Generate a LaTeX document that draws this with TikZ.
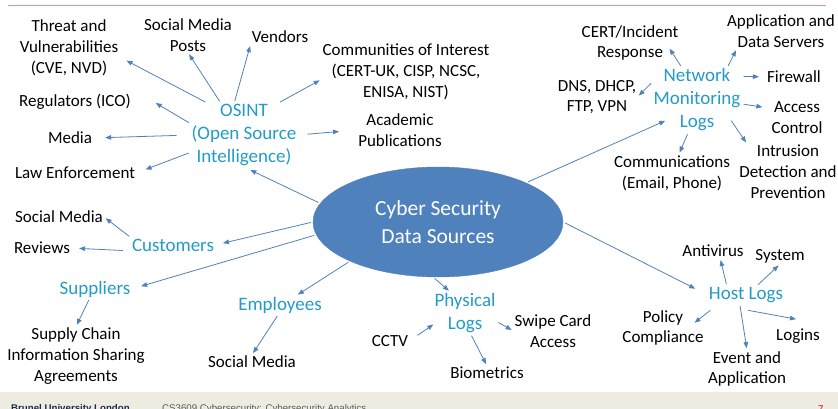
\documentclass[tikz,border=0pt]{standalone}
\usepackage{fontspec}
\setmainfont{Carlito}
\newfontfamily\footfont{Liberation Sans}
\usetikzlibrary{arrows.meta,shapes.geometric}
\definecolor{corefill}{RGB}{79,129,189}
\definecolor{hubcyan}{RGB}{35,155,200}
\definecolor{linkblue}{RGB}{79,129,189}
\definecolor{topred}{RGB}{217,150,148}
\definecolor{footbg}{RGB}{238,236,225}
\definecolor{footnavy}{RGB}{27,42,74}
\definecolor{footgrey}{RGB}{89,89,89}
\definecolor{pagered}{RGB}{192,0,0}

\begin{document}
\begin{tikzpicture}[
  x=1pt, y=-1pt,
  >={Triangle[length=6pt,width=4.6pt]},
  leaf/.style={
    align=center,
    inner sep=1pt,
    font=\fontsize{17}{20.8}\selectfont
  },
  hub/.style={
    align=center,
    inner sep=1pt,
    text=hubcyan,
    font=\fontsize{19}{23}\selectfont
  },
  coreshape/.style={
    ellipse,
    fill=corefill,
    draw=corefill,
    text=white,
    align=center,
    inner sep=0pt,
    minimum width=250pt,
    minimum height=110pt,
    font=\fontsize{21.5}{28}\selectfont
  },
  arrow/.style={->, draw=linkblue, line width=0.8pt, shorten <=2pt, shorten >=2pt},
  footnote/.style={anchor=base west, inner sep=0pt, font=\footfont\fontsize{9.7}{11}\selectfont}
]
  \useasboundingbox (0,0) rectangle (838,409);

  % slide frame
  \draw[topred, line width=1.2pt] (8,5.5) -- (826,5.5);
  \fill[footbg] (0,392) rectangle (838,409);
  \begin{scope}
    \clip (0,0) rectangle (838,409);
    \node[footnote, text=footnavy] (uni) at (11,411) {\bfseries Brunel University London};
    \node[footnote, text=footgrey] (course) at (162,411) {CS3609 Cybersecurity: Cybersecurity Analytics};
    \node[footnote, text=pagered] (page) at (818,412) {7};
  \end{scope}

  \node[coreshape] (core) at (438,222) {Cyber Security\\ Data Sources};

  % OSINT
  \node[hub] (osint) at (244,135) {OSINT\\ (Open Source\\ Intelligence)};
  \node[leaf] (threat) at (69,48) {Threat and\\ Vulnerabilities\\ (CVE, NVD)};
  \node[leaf] (smposts) at (188,35) {Social Media\\ Posts};
  \node[leaf] (vendors) at (280,37) {Vendors};
  \node[leaf] (communities) at (406,72) {Communities of Interest\\ (CERT-UK, CISP, NCSC,\\ ENISA, NIST)};
  \node[leaf] (regulators) at (75,102) {Regulators (ICO)};
  \node[leaf] (media) at (70,138) {Media};
  \node[leaf] (lawenf) at (75,173) {Law Enforcement};
  \node[leaf] (academic) at (400,130) {Academic\\ Publications};

  % network monitoring
  \node[hub] (netlogs) at (697,100) {Network\\ Monitoring\\ Logs};
  \node[leaf] (cert) at (630,43) {CERT/Incident\\ Response};
  \node[leaf] (appsrv) at (781,31) {Application and\\ Data Servers};
  \node[leaf] (firewall) at (794,77) {Firewall};
  \node[leaf] (dns) at (597,97) {DNS, DHCP,\\ FTP, VPN};
  \node[leaf] (access) at (797,118) {Access\\ Control};
  \node[leaf] (intrusion) at (788,172) {Intrusion\\ Detection and\\ Prevention};
  \node[leaf] (comms) at (672,173) {Communications\\ (Email, Phone)};

  % customers, suppliers, employees
  \node[hub] (customers) at (173,245) {Customers};
  \node[leaf] (csocial) at (59,217) {Social Media};
  \node[leaf] (reviews) at (42,248) {Reviews};
  \node[hub] (suppliers) at (95,289) {Suppliers};
  \node[leaf] (supply) at (76,356) {Supply Chain\\ Information Sharing\\ Agreements};
  \node[hub] (employees) at (280,305) {Employees};
  \node[leaf] (esocial) at (252,362) {Social Media};

  % physical
  \node[hub] (physical) at (465,313) {Physical\\ Logs};
  \node[leaf] (cctv) at (390,341) {CCTV};
  \node[leaf] (swipe) at (553,331) {Swipe Card\\ Access};
  \node[leaf] (biometrics) at (487,373) {Biometrics};

  % host
  \node[hub] (hostlogs) at (746,295) {Host Logs};
  \node[leaf] (antivirus) at (713,251) {Antivirus};
  \node[leaf] (system) at (780,256) {System};
  \node[leaf] (policy) at (663,328) {Policy\\ Compliance};
  \node[leaf] (event) at (747,369) {Event and\\ Application};
  \node[leaf] (logins) at (798,336) {Logins};

  \draw[arrow, shorten >=7pt] (core.171) -- (osint.south);
  \draw[arrow, shorten >=8pt] (osint.139) -- (threat.-10);
  \draw[arrow] (osint.126) -- (smposts.south);
  \draw[arrow] (osint.107) -- (vendors.south west);
  \draw[arrow] (osint.43) -- (communities.185);
  \draw[arrow] (osint.168) -- ([xshift=22pt]regulators.east);
  \draw[arrow, shorten <=14pt, shorten >=12pt] (osint.west) -- (media.east);
  \draw[arrow, shorten >=10pt] (osint.198) -- (lawenf.east);
  \draw[arrow, shorten <=10pt, shorten >=18pt] (osint.east) -- (academic.west);

  \draw[arrow] (core.24) -- ([xshift=-30pt,yshift=-20pt]netlogs.center);
  \draw[arrow] (netlogs.115) -- ([xshift=-11pt,yshift=-4pt]cert.east);
  \draw[arrow] (netlogs.47) -- ([xshift=11pt]appsrv.south west);
  \draw[arrow, shorten >=7pt] (netlogs.28) -- (firewall.west);
  \draw[arrow] (netlogs.158) -- (dns.east);
  \draw[arrow, shorten >=8pt] (netlogs.-5) -- (access.160);
  \draw[arrow] ([xshift=33pt,yshift=-19pt]netlogs.center) -- ([xshift=9pt]intrusion.north west);
  \draw[arrow] (netlogs.-105) -- (comms.70);

  \draw[arrow, shorten >=8pt] (core.west) -- (customers.east);
  \draw[arrow] (customers.north west) -- (csocial.east);
  \draw[arrow, shorten <=8pt, shorten >=8pt] (customers.188) -- (reviews.east);
  \draw[arrow, shorten >=10pt] (core.186) -- (suppliers.east);
  \draw[arrow] (suppliers.-120) -- (supply.north);
  \draw[arrow] (core.204) -- (employees.30);
  \draw[arrow] (employees.-100) -- (esocial.north);

  \draw[arrow] (core.265) -- (physical.125);
  \draw[arrow] (physical.-15) -- (swipe.west);
  \draw[arrow] (physical.-75) -- (biometrics.north);
  \draw[arrow, shorten <=10pt, shorten >=0pt] (cctv.east) -- (physical.200);

  \draw[arrow, shorten >=14pt] (core.east) -- (hostlogs.west);
  \draw[arrow] (hostlogs.155) -- (antivirus.-45);
  \draw[arrow] (hostlogs.40) -- (system.south);
  \draw[arrow] ([xshift=-34pt,yshift=-14pt]hostlogs.center) -- ([xshift=30pt,yshift=4pt]policy.center);
  \draw[arrow] (hostlogs.-125) -- (event.north);
  \draw[arrow] ([yshift=-6pt]hostlogs.south) -- ([yshift=8pt]logins.north);
\end{tikzpicture}
\end{document}
